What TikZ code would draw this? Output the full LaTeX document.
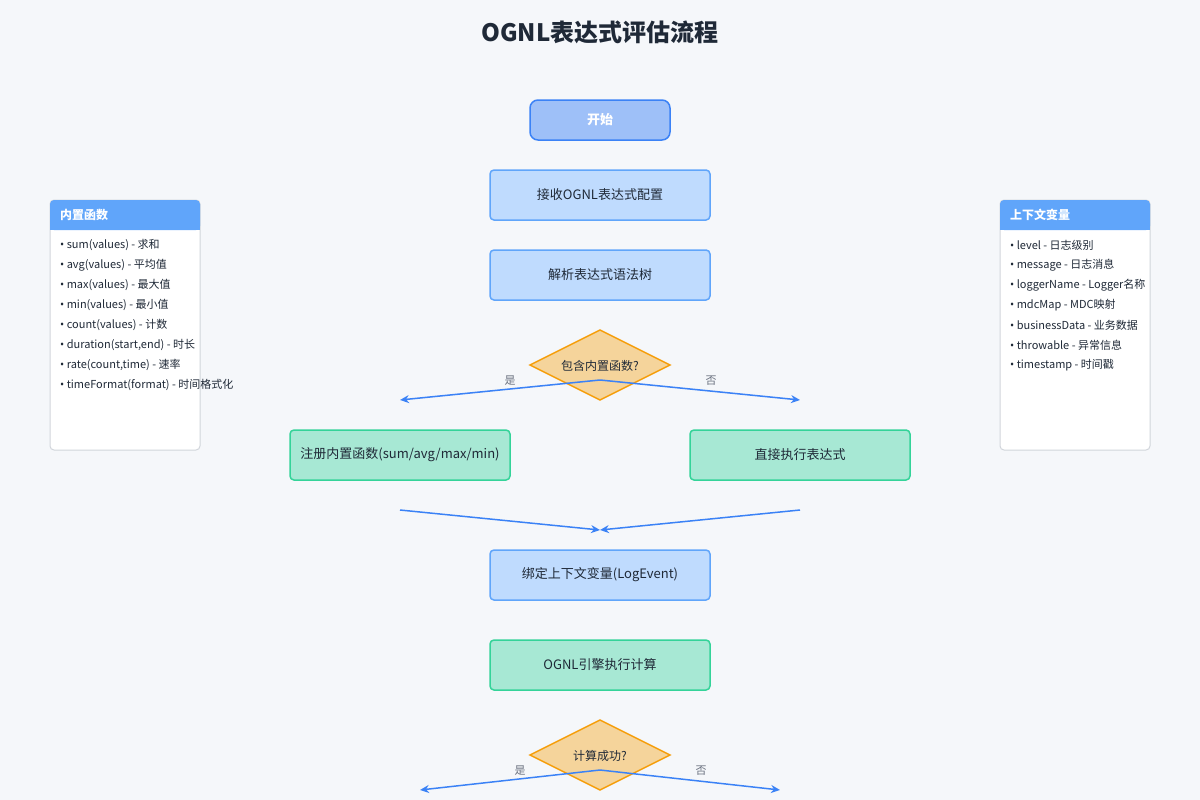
\documentclass[tikz,border=0pt]{standalone}
\usepackage{fontspec}
\setmainfont{Noto Sans CJK SC}
\newfontfamily\bulletfont{Noto Sans}
\usetikzlibrary{arrows.meta}
\definecolor{bg}{HTML}{F5F7FA}
\definecolor{ink}{HTML}{1F2937}
\definecolor{startfill}{HTML}{9EC0F8}
\definecolor{startdraw}{HTML}{3B82F6}
\definecolor{bluefill}{HTML}{BFDBFE}
\definecolor{bluedraw}{HTML}{60A5FA}
\definecolor{greenfill}{HTML}{A7E8D4}
\definecolor{greendraw}{HTML}{34D399}
\definecolor{decfill}{HTML}{F5D49B}
\definecolor{decdraw}{HTML}{F59E0B}
\definecolor{arrowc}{HTML}{3B82F6}
\definecolor{lblc}{HTML}{6B7280}
\definecolor{paneldraw}{HTML}{D1D5DB}
\definecolor{panelhead}{HTML}{60A5FA}
\tikzset{
  box/.style={rounded corners=4pt, line width=1.5pt, minimum width=220pt, minimum height=50pt, inner sep=0pt, text=ink, font=\fontsize{13}{15}\selectfont},
  bluebox/.style={box, fill=bluefill, draw=bluedraw},
  greenbox/.style={box, fill=greenfill, draw=greendraw},
  startbox/.style={rounded corners=8pt, line width=1.5pt, minimum width=140pt, minimum height=40pt, inner sep=0pt, fill=startfill, draw=startdraw, text=white, font=\fontsize{13}{15}\selectfont\bfseries},
  decision/.style={fill=decfill, draw=decdraw, line width=1.5pt},
  dectext/.style={text=ink, font=\fontsize{12}{14}\selectfont, inner sep=0pt},
  flow/.style={draw=arrowc, line width=1.5pt, -{Stealth[length=9pt,width=8pt]}},
  lbl/.style={text=lblc, font=\fontsize{11}{13}\selectfont, inner sep=0pt},
  panel/.style={fill=white, draw=paneldraw, line width=1pt, rounded corners=4pt},
  panelhd/.style={text=white, font=\fontsize{12}{14}\selectfont\bfseries, anchor=west, inner sep=0pt},
  item/.style={text=ink, font=\fontsize{11}{13}\selectfont, anchor=west, inner sep=0pt},
}
\begin{document}
\begin{tikzpicture}[x=1pt,y=-1pt]
\useasboundingbox (0,0) rectangle (1200,800);
\fill[bg] (0,0) rectangle (1200,800);

\node[text=ink, font=\fontsize{24}{28}\selectfont\bfseries] (title) at (600,32) {OGNL表达式评估流程};

\node[startbox] (start) at (600,120) {开始};
\node[bluebox] (recv) at (600,195) {接收OGNL表达式配置};
\node[bluebox] (parse) at (600,275) {解析表达式语法树};

% decision 1
\draw[decision] (600,330) -- (670,365) -- (600,400) -- (530,365) -- cycle;
\node[dectext] (d1) at (600,366) {包含内置函数?};
\coordinate (d1o) at (600,380);
\coordinate (d1l) at (400,400);
\coordinate (d1r) at (800,400);
\draw[flow] (d1o) -- (d1l);
\draw[flow] (d1o) -- (d1r);
\node[lbl] (yes1) at (510,381) {是};
\node[lbl] (no1) at (711,381) {否};

\node[greenbox] (reg) at (400,455) {注册内置函数(sum/avg/max/min)};
\node[greenbox] (direct) at (800,455) {直接执行表达式};

\coordinate (ml) at (400,510);
\coordinate (mr) at (800,510);
\coordinate (mm) at (600,530);
\draw[flow] (ml) -- (mm);
\draw[flow] (mr) -- (mm);

\node[bluebox] (bind) at (600,575) {绑定上下文变量(LogEvent)};
\node[greenbox] (exec) at (600,665) {OGNL引擎执行计算};

% decision 2
\draw[decision] (600,720) -- (670,755) -- (600,790) -- (530,755) -- cycle;
\node[dectext] (d2) at (600,756) {计算成功?};
\coordinate (d2o) at (600,770);
\coordinate (d2l) at (420,790);
\coordinate (d2r) at (780,790);
\draw[flow] (d2o) -- (d2l);
\draw[flow] (d2o) -- (d2r);
\node[lbl] (yes2) at (520,771) {是};
\node[lbl] (no2) at (701,771) {否};

% left panel
\draw[panel] (50,200) rectangle (200,450);
\fill[panelhead, rounded corners=4pt] (50,200) rectangle (200,230);
\fill[panelhead] (50,222) rectangle (200,230);
\node[panelhd] (lh) at (60,215) {内置函数};
\foreach \t [count=\i] in {sum(values) - 求和, avg(values) - 平均值, max(values) - 最大值, min(values) - 最小值, count(values) - 计数, {duration(start,end) - 时长}, {rate(count,time) - 速率}, timeFormat(format) - 时间格式化}
  \node[item] (li\i) at (60,225+20*\i) {{\bulletfont •} \t};

% right panel
\draw[panel] (1000,200) rectangle (1150,450);
\fill[panelhead, rounded corners=4pt] (1000,200) rectangle (1150,230);
\fill[panelhead] (1000,222) rectangle (1150,230);
\node[panelhd] (rh) at (1010,215) {上下文变量};
\foreach \t [count=\i] in {level - 日志级别, message - 日志消息, loggerName - Logger名称, mdcMap - MDC映射, businessData - 业务数据, throwable - 异常信息, timestamp - 时间戳}
  \node[item] (ri\i) at (1010,225+20*\i) {{\bulletfont •} \t};
\end{tikzpicture}
\end{document}
